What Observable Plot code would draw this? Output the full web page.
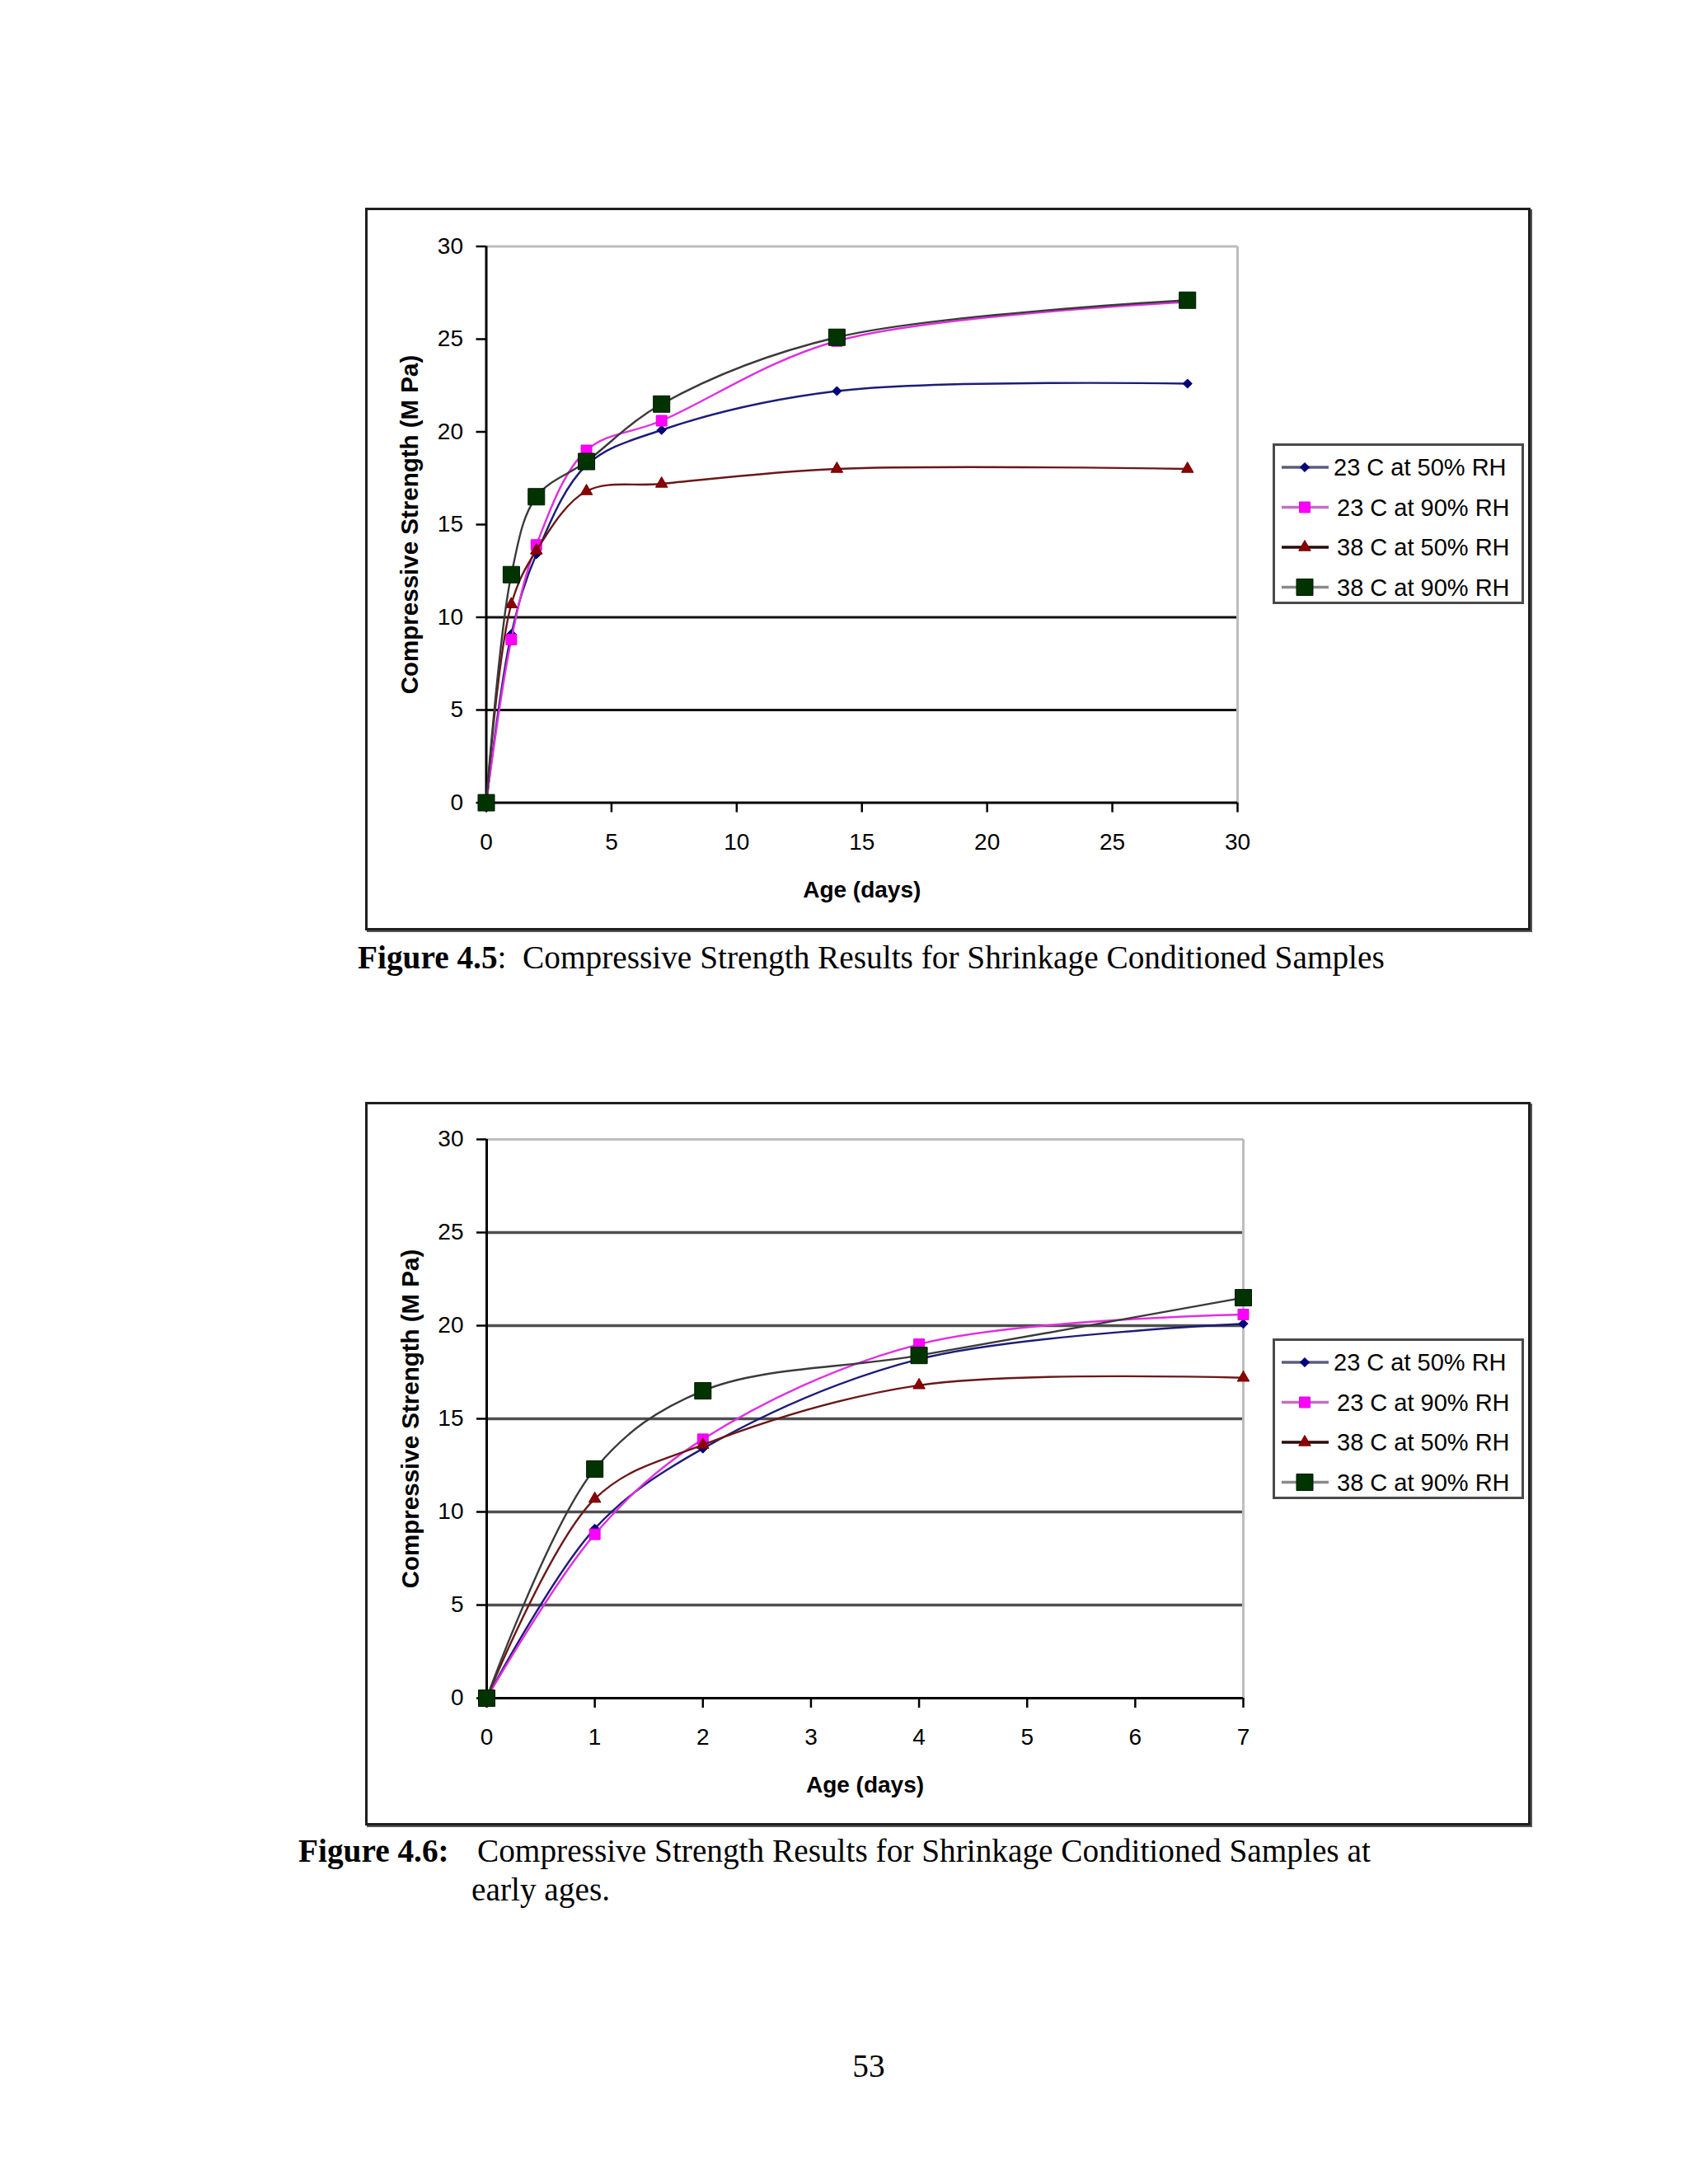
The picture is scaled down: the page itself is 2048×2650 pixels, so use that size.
<!DOCTYPE html>
<html>
<head>
<meta charset="utf-8">
<script src="https://cdn.jsdelivr.net/npm/d3@7"></script>
<script src="https://cdn.jsdelivr.net/npm/@observablehq/plot@0.6"></script>
<style>
  html, body { margin: 0; padding: 0; background: #fff; }
  #page { position: relative; width: 2048px; height: 2650px; background: #fff; overflow: hidden; }
  .frame { position: absolute; border: 3px solid #1e1e1e; box-sizing: border-box; box-shadow: 2px 2px 0 #555; }
  .plotwrap { position: absolute; }
  .legend { position: absolute; }
  .cap { position: absolute; font-family: "Liberation Serif", "Times New Roman", serif; font-size: 39.3px; line-height: 1; color: #000; white-space: nowrap; }
  .cap b { font-weight: bold; }
</style>
</head>
<body>
<div id="page"></div>
<script>
// ---------------- data ----------------
const ages = [0, 1, 2, 4, 7, 14, 28];
const seriesNames = ["23 C at 50% RH", "23 C at 90% RH", "38 C at 50% RH", "38 C at 90% RH"];
const s23at50 = [0, 9.1, 13.4, 18.2, 20.1, 22.2, 22.6];
const s23at90 = [0, 8.8, 13.9, 19.0, 20.6, 24.9, 27.0];
const s38at50 = [0, 10.7, 13.6, 16.8, 17.2, 18.0, 18.0];
const s38at90 = [0, 12.3, 16.5, 18.4, 21.5, 25.1, 27.1];
const seriesValues = [s23at50, s23at90, s38at50, s38at90];

const yTicks = [0, 5, 10, 15, 20, 25, 30];
const xTicksFull = [0, 5, 10, 15, 20, 25, 30];
const xTicksEarly = [0, 1, 2, 3, 4, 5, 6, 7];

// ---------------- styles ----------------
const styles = [
  {line: "#1c1c78", fill: "#000080", stroke: "#000060", symbol: "diamond2", r: 5, legendLine: "#5c5c80"},
  {line: "#e030e0", fill: "#ff00ff", stroke: "#e000e0", symbol: "square", r: 7.3, legendLine: "#c070c0"},
  {line: "#6a1818", fill: "#8b0000", stroke: "#700000", symbol: "triangle", r: 5.4, legendLine: "#2a0a0a"},
  {line: "#3a3a3a", fill: "#003300", stroke: "#001800", symbol: "square", r: 11.3, legendLine: "#8a8a8a"}
];

const rows = [];
seriesNames.forEach((name, si) => {
  ages.forEach((a, i) => rows.push({series: name, si, age: a, value: seriesValues[si][i]}));
});

const page = document.getElementById("page");

function addChart(cfg) {
  const frame = document.createElement("div");
  frame.className = "frame";
  Object.assign(frame.style, {left: cfg.left + "px", top: cfg.top + "px", width: cfg.width + "px", height: cfg.height + "px"});
  page.appendChild(frame);

  const data = rows.filter(d => d.age <= cfg.xMax);
  const marks = [
    Plot.ruleY(cfg.grid, {y: d => d, stroke: cfg.gridColor, strokeWidth: cfg.gridWidth}),
    Plot.ruleY([cfg.yMax], {y: d => d, stroke: "#bdbdbd", strokeWidth: 3}),
    Plot.ruleX([cfg.xMax], {x: d => d, stroke: "#bdbdbd", strokeWidth: 3}),
    Plot.axisY({ticks: yTicks, tickFormat: "d", tickSize: 12, tickPadding: 16, fontSize: 28, strokeWidth: 2.5, label: null}),
    Plot.axisX({ticks: cfg.xTicks, tickFormat: "d", tickSize: 12, tickPadding: 25, fontSize: 28, strokeWidth: 2.5, label: null}),
    Plot.ruleX([0], {x: d => d, stroke: "#000", strokeWidth: 3}),
    Plot.ruleY([0], {y: d => d, stroke: "#000", strokeWidth: 3})
  ];
  seriesNames.forEach((name, si) => {
    const st = styles[si];
    const sd = data.filter(d => d.si === si);
    marks.push(Plot.line(sd, {x: "age", y: "value", stroke: st.line, strokeWidth: 2.4, curve: "catmull-rom"}));
    marks.push(Plot.dot(sd, {x: "age", y: "value", symbol: st.symbol, r: st.r, fill: st.fill, stroke: st.stroke, strokeWidth: 1}));
  });
  marks.push(Plot.text(["Age (days)"], {text: d => d, frameAnchor: "bottom", dy: 106, fontWeight: "bold", fontSize: 28, lineAnchor: "middle", textAnchor: "middle", fill: "#000"}));
  marks.push(Plot.text(["Compressive Strength (M Pa)"], {text: d => d, frameAnchor: "left", rotate: -90, dx: -92, fontWeight: "bold", fontSize: 29.5, lineAnchor: "middle", textAnchor: "middle", fill: "#000"}));

  const svg = Plot.plot({
    width: cfg.width,
    height: cfg.height,
    marginLeft: cfg.mL, marginRight: cfg.mR, marginTop: cfg.mT, marginBottom: cfg.mB,
    x: {domain: [0, cfg.xMax], axis: null},
    y: {domain: [0, cfg.yMax], axis: null},
    style: {fontFamily: "'Liberation Sans', Arial, sans-serif", fontSize: "28px", color: "#000", background: "transparent", overflow: "visible"},
    marks
  });
  const wrap = document.createElement("div");
  wrap.className = "plotwrap";
  Object.assign(wrap.style, {left: cfg.left + "px", top: cfg.top + "px"});
  wrap.appendChild(svg);
  page.appendChild(wrap);

  // legend
  const lg = document.createElement("div");
  lg.className = "legend";
  Object.assign(lg.style, {left: cfg.legLeft + "px", top: cfg.legTop + "px"});
  page.appendChild(lg);
  const W = 305, H = 195;
  const ls = d3.select(lg).append("svg").attr("width", W).attr("height", H).style("overflow", "visible");
  ls.append("rect").attr("x", 1.5).attr("y", 1.5).attr("width", W - 3).attr("height", H - 3)
    .attr("fill", "#fff").attr("stroke", "#4a4a4a").attr("stroke-width", 3);
  const symMap = {diamond2: d3.symbolDiamond2, square: d3.symbolSquare, triangle: d3.symbolTriangle};
  seriesNames.forEach((name, si) => {
    const st = styles[si];
    const cy = 29 + si * 48.5;
    ls.append("line").attr("x1", 11).attr("x2", 68).attr("y1", cy).attr("y2", cy)
      .attr("stroke", st.legendLine).attr("stroke-width", 3.5);
    ls.append("path").attr("d", d3.symbol(symMap[st.symbol], Math.PI * st.r * st.r)())
      .attr("transform", `translate(39,${cy})`).attr("fill", st.fill).attr("stroke", st.stroke);
    ls.append("text").attr("x", si === 0 ? 74 : 78).attr("y", cy).attr("dy", "0.36em")
      .attr("font-family", "'Liberation Sans', Arial, sans-serif").attr("font-size", 29).attr("fill", "#000")
      .text(name);
  });
}

addChart({left: 443, top: 252, width: 1414, height: 877, xMax: 30, yMax: 30, xTicks: xTicksFull,
  grid: [5, 10], gridColor: "#111", gridWidth: 3,
  mL: 146.5, mR: 356, mT: 46.5, mB: 155.5, legLeft: 1544, legTop: 538});
addChart({left: 443, top: 1337, width: 1414, height: 878, xMax: 7, yMax: 30, xTicks: xTicksEarly,
  grid: [5, 10, 15, 20, 25], gridColor: "#4f4f4f", gridWidth: 3.5,
  mL: 147, mR: 349, mT: 45, mB: 155, legLeft: 1544, legTop: 1624});

// captions
function cap(html, left, baseline) {
  const d = document.createElement("div");
  d.className = "cap";
  d.innerHTML = html;
  d.style.left = left + "px";
  d.style.top = (baseline - 33) + "px";
  page.appendChild(d);
  return d;
}
cap("<b>Figure 4.5</b>:&nbsp; Compressive Strength Results for Shrinkage Conditioned Samples", 434, 1176);
cap("<b>Figure 4.6:</b>", 362, 2260);
cap("Compressive Strength Results for Shrinkage Conditioned Samples at", 579, 2260);
cap("early ages.", 572, 2307);
const pn = cap("53", 0, 2521);
pn.style.left = "0px"; pn.style.width = "2108px"; pn.style.textAlign = "center";
</script>
</body>
</html>
